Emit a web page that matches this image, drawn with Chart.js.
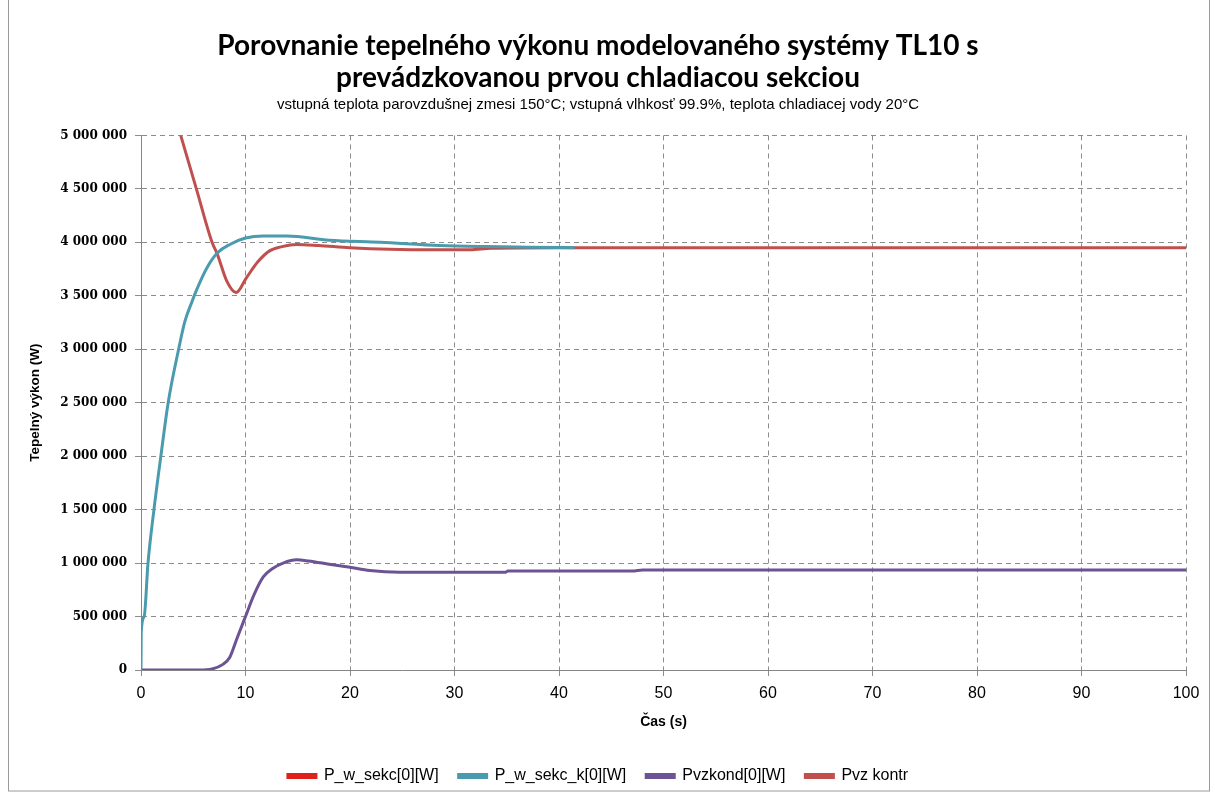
<!DOCTYPE html>
<html>
<head>
<meta charset="utf-8">
<script src="https://cdn.jsdelivr.net/npm/chart.js@4.4.1/dist/chart.umd.min.js"></script>
<style>
    html, body { margin: 0; padding: 0; background: #fff; }
    #wrap { position: relative; width: 1215px; height: 794px; }
</style>
</head>
<body>
<div id="wrap"><canvas id="chart"></canvas></div>
<script>
// time (s) and heat output (MW)
const sekcTime = [];
const sekcVals = [];

const sekcKTime = [0, 0.02, 0.3, 0.67, 1.24, 1.9, 2.6, 3.6, 4.2, 4.9, 5.3, 6.3, 7.3, 8.5, 10, 11.7, 14, 18, 22.9, 28.6, 33, 37, 41.5];
const sekcKVals = [0, 0.35, 0.5, 1.0, 1.5, 2.0, 2.5, 3.0, 3.26, 3.45, 3.55, 3.76, 3.9, 3.98, 4.04, 4.06, 4.06, 4.02, 4.0, 3.97, 3.96, 3.955, 3.95];

const kondTime = [0, 5.6, 6.8, 7.8, 8.5, 9.2, 10, 10.8, 11.7, 12.6, 13.6, 14.9, 16, 18, 20, 21.9, 24.8, 30, 34.9, 35.1, 47, 48, 100];
const kondVals = [0, 0, 0.01, 0.05, 0.12, 0.3, 0.5, 0.7, 0.87, 0.95, 1.0, 1.03, 1.02, 0.99, 0.96, 0.93, 0.915, 0.915, 0.915, 0.925, 0.925, 0.935, 0.935];

const kontrTime = [0, 2, 3.8, 5.3, 6.8, 7.3, 8.2, 9.1, 10.1, 11.2, 12.3, 13.5, 14.9, 17, 20, 23.8, 28, 31.5, 33.5, 40, 60, 80, 100];
const kontrVals = [6.25, 5.6, 5.0, 4.5, 4.0, 3.89, 3.64, 3.53, 3.67, 3.82, 3.92, 3.96, 3.98, 3.97, 3.95, 3.935, 3.93, 3.93, 3.945, 3.95, 3.95, 3.95, 3.95];

const seriesNames = ["P_w_sekc[0][W]", "P_w_sekc_k[0][W]", "Pvzkond[0][W]", "Pvz kontr"];
const seriesColors = ["#e0201b", "#4a9bad", "#6c5393", "#c0504d"];

const titleLines = ["Porovnanie tepelného výkonu modelovaného systémy TL10 s", "prevádzkovanou prvou chladiacou sekciou"];
const subtitleText = "vstupná teplota parovzdušnej zmesi 150°C; vstupná vlhkosť 99.9%, teplota chladiacej vody 20°C";

const toPoints = (times, vals) => times.map((t, i) => ({ x: t, y: vals[i] * 1e6 }));

const fmt = (v) => String(Math.round(v)).replace(/\B(?=(\d{3})+(?!\d))/g, " ");

const frame = {
    id: "frame",
    beforeDraw(chart) {
        const ctx = chart.ctx;
        ctx.save();
        ctx.fillStyle = "#fff";
        ctx.fillRect(0, 0, chart.width, chart.height);
        ctx.strokeStyle = "#9a9a9a";
        ctx.lineWidth = 1;
        ctx.strokeRect(8.5, -1, 1201, 792);
        ctx.restore();
    }
};

const sets = [
    [sekcTime, sekcVals],
    [sekcKTime, sekcKVals],
    [kondTime, kondVals],
    [kontrTime, kontrVals]
].map(([t, v], i) => ({
    label: seriesNames[i],
    data: toPoints(t, v),
    borderColor: seriesColors[i],
    backgroundColor: seriesColors[i],
    borderWidth: 3,
    pointRadius: 0,
    cubicInterpolationMode: "monotone",
    fill: false
}));

const sans = "'Liberation Sans', Arial, sans-serif";
const grid = {
    color: "#8c8c8c",
    lineWidth: 1,
    tickLength: 6,
    tickColor: "#8c8c8c",
    tickBorderDash: [],
    drawTicks: true
};

new Chart(document.getElementById("chart"), {
    type: "line",
    data: { datasets: sets },
    plugins: [frame],
    options: {
        responsive: true,
        maintainAspectRatio: false,
        animation: false,
        layout: { padding: { top: 26, left: 10, right: 29, bottom: 0 } },
        plugins: {
            title: {
                display: true,
                text: titleLines,
                color: "#000",
                font: { family: "Lato, " + sans, size: 28, weight: "bold", lineHeight: 1.15 },
                padding: { top: 4, bottom: 0 }
            },
            subtitle: {
                display: true,
                text: subtitleText,
                color: "#000",
                font: { family: sans, size: 15, lineHeight: 1.2 },
                padding: { top: 1, bottom: 22 }
            },
            legend: {
                position: "bottom",
                labels: {
                    color: "#000",
                    font: { family: sans, size: 16 },
                    boxWidth: 28,
                    boxHeight: 3,
                    padding: 20
                }
            },
            tooltip: { enabled: false }
        },
        scales: {
            x: {
                type: "linear",
                min: 0,
                max: 100,
                ticks: {
                    stepSize: 10,
                    color: "#000",
                    font: { family: sans, size: 16 },
                    padding: 8,
                    maxRotation: 0
                },
                grid: grid,
                border: { color: "#868686", width: 1, dash: [5, 4] },
                title: {
                    display: true,
                    text: "Čas (s)",
                    color: "#000",
                    font: { family: sans, size: 14, weight: "bold" },
                    padding: { top: 8, bottom: 17 }
                },
                afterFit: (scale) => { scale.height = 78; }
            },
            y: {
                min: 0,
                max: 5000000,
                ticks: {
                    stepSize: 500000,
                    color: "#000",
                    font: { family: "'DejaVu Serif', serif", size: 12, weight: "bold" },
                    padding: 8,
                    callback: (v) => fmt(v)
                },
                grid: grid,
                border: { color: "#868686", width: 1, dash: [5, 4] },
                title: {
                    display: true,
                    text: "Tepelný výkon (W)",
                    color: "#000",
                    font: { family: sans, size: 13.5, weight: "bold" },
                    padding: { top: 17, bottom: 6 }
                },
                afterFit: (scale) => { scale.width = 131; }
            }
        }
    }
});
</script>
</body>
</html>
